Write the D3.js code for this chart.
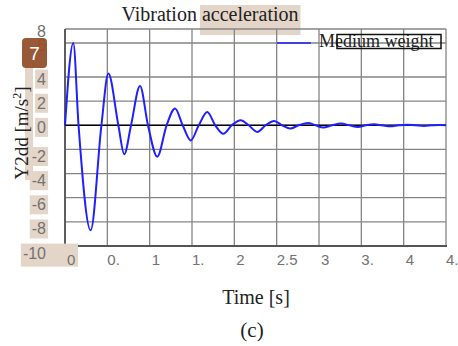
<!DOCTYPE html>
<html>
<head>
<meta charset="utf-8">
<script src="https://cdn.jsdelivr.net/npm/d3@7"></script>
<style>
  body { margin: 0; background: #fff; }
  svg { display: block; }
</style>
</head>
<body>
<div id="graph"></div>
<script>
// Chart data: turning points and zero crossings of the response
const time = [0, 0.098, 0.16, 0.303, 0.43, 0.512, 0.63, 0.70, 0.78, 0.886, 0.98, 1.09, 1.20, 1.30, 1.39, 1.485, 1.58, 1.68, 1.775, 1.87, 1.97, 2.075, 2.17, 2.27, 2.37, 2.47, 2.565, 2.66, 2.76, 2.87, 2.96, 3.05, 3.155, 3.26, 3.36, 3.46, 3.555, 3.65, 3.745, 3.84, 3.94, 4.04, 4.14, 4.24, 4.335, 4.43, 4.5]
const accel = [0, 6.0, 0, -8.7, 0, 4.2, 0, -2.4, 0, 3.25, 0, -2.6, 0, 1.4, 0, -1.25, 0, 1.1, 0, -0.7, 0, 0.42, 0, -0.55, 0, 0.36, 0, -0.27, 0, 0.19, 0, -0.19, 0, 0.14, 0, -0.14, 0, 0.08, 0, -0.08, 0, 0.05, 0, -0.05, 0, 0.03, 0.01]

const xTicks = [0, 0.5, 1, 1.5, 2, 2.5, 3, 3.5, 4, 4.5]
const xTickLabels = ["0", "0.", "1", "1.", "2", "2.5", "3", "3.", "4", "4."]
const yTicks = [8, 6, 4, 2, 0, -2, -4, -6, -8, -10]
const seriesName = "Medium weight"

const width = 458
const height = 346
const plot = { left: 65, right: 446, top: 29, bottom: 246 }
const highlight = "#e4d5c9"

const x = d3.scaleLinear().domain([0, 4.5]).range([plot.left, plot.right])
// the reference's y grid is uneven near the top, so the scale is piecewise
const y = d3.scaleLinear().domain([-10, 4, 6, 8]).range([plot.bottom, 77, 43, plot.top])

const svg = d3.select("#graph").append("svg")
    .attr("width", width)
    .attr("height", height)

// title, with the highlighted word
const titleBox = svg.append("rect")
    .attr("fill", highlight)
const title = svg.append("text")
    .attr("x", 210)
    .attr("y", 21)
    .attr("text-anchor", "middle")
    .style("font", "20px 'Liberation Serif', serif")
    .attr("fill", "#222")
title.append("tspan").text("Vibration ")
const hl = title.append("tspan").text("acceleration")
const hb = hl.node().getBBox()
titleBox.attr("x", hb.x - 2).attr("y", 5).attr("width", hb.width + 4).attr("height", 30)

// grid
const grid = svg.append("g")
    .attr("stroke", "#858585")
    .attr("stroke-width", 1.3)
grid.selectAll("line.v")
    .data(xTicks)
    .join("line")
    .attr("class", "v")
    .attr("x1", d => x(d)).attr("x2", d => x(d))
    .attr("y1", plot.top).attr("y2", plot.bottom)
grid.selectAll("line.h")
    .data(yTicks)
    .join("line")
    .attr("class", "h")
    .attr("x1", plot.left).attr("x2", plot.right)
    .attr("y1", d => y(d)).attr("y2", d => y(d))

// axis frame: darker left and bottom
svg.append("line")
    .attr("x1", plot.left).attr("x2", plot.left)
    .attr("y1", plot.top).attr("y2", plot.bottom + 1)
    .attr("stroke", "#555").attr("stroke-width", 1.8)
svg.append("line")
    .attr("x1", plot.left).attr("x2", plot.right + 1)
    .attr("y1", plot.bottom).attr("y2", plot.bottom)
    .attr("stroke", "#555").attr("stroke-width", 1.8)

// zero line
svg.append("line")
    .attr("x1", plot.left).attr("x2", plot.right)
    .attr("y1", y(0)).attr("y2", y(0))
    .attr("stroke", "#000").attr("stroke-width", 1.5)

// response curve
const line = d3.line()
    .x(d => x(d[0]))
    .y(d => y(d[1]))
    .curve(d3.curveMonotoneX)
svg.append("path")
    .datum(d3.zip(time, accel))
    .attr("fill", "none")
    .attr("stroke", "#1f1fff")
    .attr("stroke-width", 2)
    .attr("d", line)

// y-axis title band
svg.append("rect")
    .attr("x", 25).attr("y", 67).attr("width", 8).attr("height", 113)
    .attr("fill", highlight)

// y tick labels with highlight boxes
const yLab = svg.append("g")
    .style("font", "16px 'Liberation Sans', Arial, sans-serif")
    .attr("fill", "#727272")
    .selectAll("g")
    .data(yTicks)
    .join("g")
yLab.append("text")
    .attr("x", 46)
    .attr("y", d => y(d) + (d < 0 ? 7 : 2))
    .attr("dy", "0.35em")
    .attr("text-anchor", "end")
    .text(d => d)
yLab.filter(d => d <= 4).insert("rect", "text")
    .each(function (d) {
        const b = d3.select(this.parentNode).select("text").node().getBBox()
        const wide = d === -10
        d3.select(this)
            .attr("x", b.x - 2)
            .attr("y", b.y - 1)
            .attr("width", wide ? 78 - b.x + 2 : b.width + 4)
            .attr("height", wide ? b.height + 6 : b.height + 2)
            .attr("fill", highlight)
    })

// x tick labels
svg.append("g")
    .style("font", "15px 'Liberation Sans', Arial, sans-serif")
    .attr("fill", "#727272")
    .selectAll("text")
    .data(xTicks)
    .join("text")
    .attr("x", (d, i) => x(d) + (xTickLabels[i].length > 1 ? 0 : 2))
    .attr("y", 265)
    .attr("text-anchor", "start")
    .text((d, i) => xTickLabels[i])

// marker box over the "6" label
svg.append("rect")
    .attr("x", 22).attr("y", 38).attr("width", 25).attr("height", 30)
    .attr("rx", 4)
    .attr("fill", "#944f2b")
    .attr("fill-opacity", 0.95)
svg.append("text")
    .attr("x", 34.5).attr("y", 53)
    .attr("dy", "0.35em")
    .attr("text-anchor", "middle")
    .attr("fill", "#fff")
    .style("font", "19px 'Liberation Sans', Arial, sans-serif")
    .text("7")

// axis titles
const yTitle = svg.append("text")
    .attr("transform", "translate(28,133) rotate(-90)")
    .attr("text-anchor", "middle")
    .attr("fill", "#222")
    .style("font", "19px 'Liberation Serif', serif")
yTitle.append("tspan").text("Y2dd [m/s")
yTitle.append("tspan").attr("dy", -7).style("font-size", "12px").text("2")
yTitle.append("tspan").attr("dy", 7).text("]")

svg.append("text")
    .attr("x", 256).attr("y", 304)
    .attr("text-anchor", "middle")
    .attr("fill", "#222")
    .style("font", "20px 'Liberation Serif', serif")
    .text("Time [s]")

svg.append("text")
    .attr("x", 252).attr("y", 337)
    .attr("text-anchor", "middle")
    .attr("fill", "#222")
    .style("font", "21px 'Liberation Serif', serif")
    .text("(c)")

// legend
const legend = svg.append("g")
legend.append("line")
    .attr("x1", 277).attr("x2", 311)
    .attr("y1", 43).attr("y2", 43)
    .attr("stroke", "#1f1fff").attr("stroke-width", 1.5)
legend.append("text")
    .attr("x", 319).attr("y", 47)
    .attr("fill", "#222")
    .style("font", "18px 'Liberation Serif', serif")
    .text(seriesName)
legend.append("rect")
    .attr("x", 337).attr("y", 34.5).attr("width", 104).attr("height", 14)
    .attr("fill", "none")
    .attr("stroke", "#111").attr("stroke-width", 1.5)
</script>
</body>
</html>
